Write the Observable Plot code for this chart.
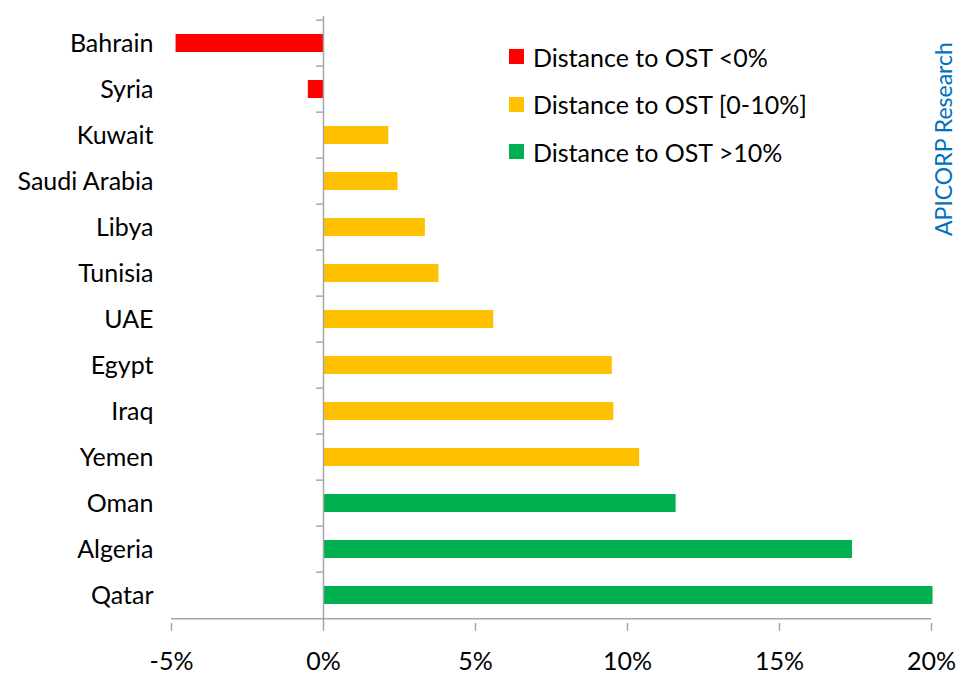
<!DOCTYPE html>
<html><head><meta charset="utf-8">
<script src="https://cdn.jsdelivr.net/npm/d3@7"></script>
<script src="https://cdn.jsdelivr.net/npm/@observablehq/plot@0.6"></script>
<style>
body{margin:0;background:#fff;}
#wrap{position:relative;width:957px;height:677px;font-family:Lato, sans-serif;}
#chart svg{display:block;}
#legend{position:absolute;left:509px;top:33px;}
.item{display:flex;align-items:center;height:47.5px;font-size:25px;color:#000;}
.sw{width:15px;height:15px;margin-right:9px;}
#src{position:absolute;left:931px;top:35px;height:208px;width:24px;writing-mode:vertical-rl;transform:rotate(180deg);font-size:23px;line-height:24px;color:#0070C0;text-align:center;white-space:nowrap;}
</style>
</head><body>
<div id="wrap">
<div id="chart"></div>
<div id="legend"></div>
<div id="src">APICORP Research</div>
</div>
<script>
const countries = ["Bahrain","Syria","Kuwait","Saudi Arabia","Libya","Tunisia","UAE","Egypt","Iraq","Yemen","Oman","Algeria","Qatar"];
const values = [-4.85,-0.5,2.15,2.45,3.35,3.8,5.6,9.5,9.55,10.4,11.6,17.4,20.05];
const groups = ["Distance to OST <0%","Distance to OST <0%","Distance to OST [0-10%]","Distance to OST [0-10%]","Distance to OST [0-10%]","Distance to OST [0-10%]","Distance to OST [0-10%]","Distance to OST [0-10%]","Distance to OST [0-10%]","Distance to OST [0-10%]","Distance to OST >10%","Distance to OST >10%","Distance to OST >10%"];
const groupNames = ["Distance to OST <0%","Distance to OST [0-10%]","Distance to OST >10%"];
const groupColors = ["#FF0000","#FFC000","#00B050"];
const xTicks = [-5,0,5,10,15,20];

const data = countries.map((c,i)=>({country:c, value:values[i], group:groups[i]}));
const axisColor = "#a6a6a6";
const H = 677, mT = 16, mB = 54;
const band = (H - mT - mB) / countries.length;

const chart = Plot.plot({
  width: 957, height: H,
  marginLeft: 171, marginRight: 26, marginTop: mT, marginBottom: mB,
  style: {fontFamily: "Lato, sans-serif", fontSize: "25px", color: "#000", background: "#fff"},
  x: {domain: [-5, 20], label: null},
  y: {domain: countries, paddingInner: 0.6, paddingOuter: 0.3, label: null},
  color: {domain: groupNames, range: groupColors},
  marks: [
    Plot.barX(data, {x: "value", y: "country", fill: "group"}),
    Plot.ruleX([0], {stroke: axisColor, strokeWidth: 1.5}),
    Plot.ruleY(countries, {y: d => d, dy: -band/2, x1: -0.23, x2: 0, stroke: axisColor, strokeWidth: 1.5}),
    Plot.ruleY([countries[countries.length-1]], {y: d => d, dy: band/2, x1: -5, x2: 20, stroke: axisColor, strokeWidth: 1.5}),
    Plot.axisY({anchor: "left", tickSize: 0, tickPadding: 18, fontSize: 25, fill: "#000", label: null}),
    Plot.axisX({anchor: "bottom", ticks: xTicks, tickFormat: d => d + "%", tickSize: 8, tickPadding: 21, stroke: axisColor, strokeWidth: 1.5, strokeOpacity: 1, fontSize: 25, fill: "#000", label: null})
  ]
});
document.getElementById("chart").appendChild(chart);

const leg = document.getElementById("legend");
groupNames.forEach((g,i)=>{
  const row = document.createElement("div"); row.className = "item";
  const sw = document.createElement("span"); sw.className = "sw"; sw.style.background = groupColors[i];
  const t = document.createElement("span"); t.textContent = g;
  row.appendChild(sw); row.appendChild(t); leg.appendChild(row);
});
</script>
</body></html>
